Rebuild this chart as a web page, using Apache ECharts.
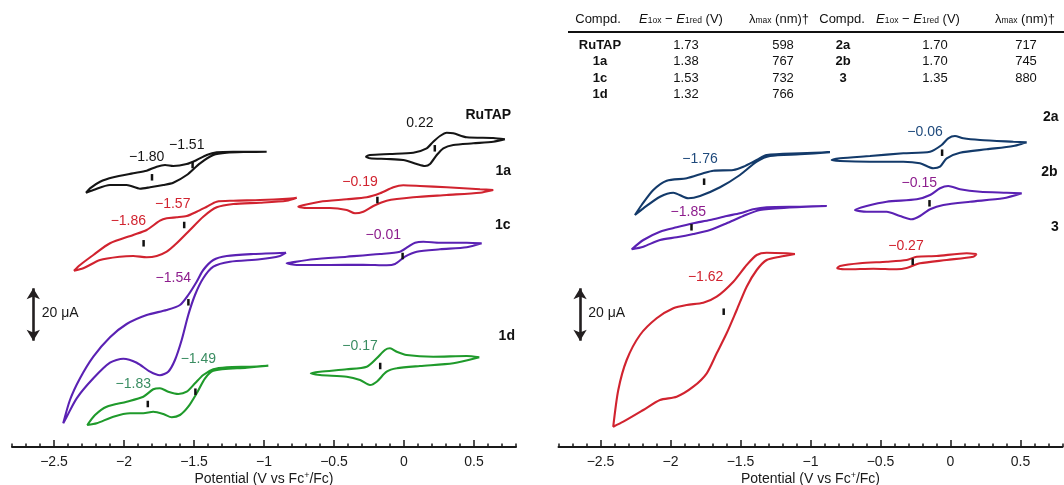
<!DOCTYPE html>
<html>
<head>
<meta charset="utf-8">
<script src="https://cdn.jsdelivr.net/npm/echarts@6/dist/echarts.min.js"></script>
<style>
  html, body { margin: 0; padding: 0; background: #fff; }
  #chart { width: 1064px; height: 485px; }
</style>
</head>
<body>
<div id="chart"></div>
<script>
// potential in V vs Fc+/Fc, current as stacked offset (1 unit ~ 0.38 uA, 20 uA bar = 52.5)
const ruTapRed = [[-0.981,295.3],[-1.221,295.3],[-1.338,294.7],[-1.409,292],[-1.481,287],[-1.552,283],[-1.648,281],[-1.707,282],[-1.766,280.3],[-1.838,276.3],[-1.934,273.7],[-2.076,269.7],[-2.171,265.3],[-2.243,258.7],[-2.271,254.3],
  [-2.219,257],[-2.1,262],[-1.981,262],[-1.886,258.3],[-1.814,259.7],[-1.719,262],[-1.648,264.3],[-1.552,272],[-1.457,283.7],[-1.362,292],[-1.266,294.3],[-1.124,295],[-0.981,295.3]];
const ruTapOx = [[0.721,307.7],[0.638,309],[0.448,309.7],[0.352,313.7],[0.305,314.3],[0.257,311],[0.209,305.3],[0.162,298.7],[0.066,294.3],[-0.1,293],[-0.243,292],[-0.271,290.3],
  [-0.243,288.7],[-0.124,288],[-0.005,287],[0.091,283],[0.15,281],[0.186,283],[0.234,292],[0.281,298.7],[0.352,302],[0.495,303.7],[0.638,305.3],[0.721,307.7]];
const c1aRed = [[-0.766,249.3],[-0.838,248.3],[-1.029,247],[-1.219,246.3],[-1.338,245.3],[-1.409,240.3],[-1.481,235.3],[-1.552,231],[-1.624,229.7],[-1.695,228.7],[-1.743,226.3],[-1.838,217],[-1.934,212],[-2.1,203.7],[-2.219,192],[-2.314,182],[-2.357,176.3],
  [-2.291,178.7],[-2.171,187],[-2.029,190.3],[-1.934,191],[-1.838,189.7],[-1.766,191],[-1.695,195.3],[-1.624,203.7],[-1.529,217],[-1.434,230.3],[-1.338,239.7],[-1.219,243],[-1.029,244.3],[-0.838,246.3],[-0.766,249.3]];
const c1aOx = [[0.638,257],[0.543,257.7],[0.305,259.7],[0.114,261],[-0.005,261.7],[-0.076,259.7],[-0.171,253.7],[-0.266,249.7],[-0.409,247.7],[-0.6,245.3],[-0.743,241],[-0.755,240.3],
  [-0.695,239],[-0.529,239],[-0.409,237],[-0.35,233.7],[-0.291,235.3],[-0.219,241],[-0.124,246.3],[0.066,249.7],[0.305,252],[0.543,254.3],[0.638,257]];
const c1cRed = [[-0.843,194.3],[-1.076,193],[-1.266,191],[-1.362,187],[-1.434,177],[-1.481,165.3],[-1.541,152],[-1.6,142],[-1.695,137],[-1.838,132],[-1.981,123],[-2.1,109.7],[-2.219,90.3],[-2.314,68.7],[-2.386,47],[-2.434,23.7],
  [-2.409,30.3],[-2.338,48.7],[-2.219,68.7],[-2.1,84.3],[-2.005,88.3],[-1.909,84.3],[-1.814,75.3],[-1.743,71.7],[-1.684,75.3],[-1.636,87],[-1.588,107],[-1.541,132],[-1.493,152],[-1.434,168.7],[-1.362,180.3],[-1.243,185.3],[-1.029,187.7],[-0.886,191],[-0.843,194.3]];
const c1cOx = [[0.555,203.7],[0.448,204.3],[0.257,204.3],[0.138,205.3],[0.079,204.3],[0.031,200.3],[-0.029,195.3],[-0.171,193],[-0.409,190.3],[-0.648,187.7],[-0.814,184.3],[-0.838,183.7],
  [-0.766,182],[-0.529,182],[-0.291,182.3],[-0.124,181.7],[-0.064,183],[0.007,190.3],[0.091,195.3],[0.257,197.7],[0.448,199.7],[0.555,203.7]];
const c1dRed = [[-0.969,81.3],[-1.1,80.3],[-1.266,79.7],[-1.362,77.7],[-1.434,72],[-1.493,63.7],[-1.552,55.3],[-1.612,53],[-1.684,55.3],[-1.743,58.7],[-1.791,57.7],[-1.862,50.3],[-1.981,45.3],[-2.124,40.3],[-2.207,32],[-2.262,22],
  [-2.195,23.7],[-2.076,30.3],[-1.957,33.7],[-1.862,33.7],[-1.791,35.3],[-1.719,33],[-1.659,29.7],[-1.6,32],[-1.541,40.3],[-1.481,53.7],[-1.421,68.7],[-1.362,76.3],[-1.124,79.3],[-0.969,81.3]];
const c1dOx = [[0.538,89.7],[0.448,91],[0.209,90.3],[0.019,92],[-0.052,95.3],[-0.1,98.7],[-0.136,97],[-0.195,88.7],[-0.266,80.3],[-0.409,77.7],[-0.6,75.3],[-0.666,73.7],
  [-0.6,72],[-0.409,70.3],[-0.314,67],[-0.243,62],[-0.195,65.3],[-0.124,75.3],[-0.052,78.7],[0.114,81],[0.352,83.7],[0.538,89.7]];

const c2aRed = [[-0.861,294.7],[-1.075,293.7],[-1.313,292],[-1.384,287],[-1.48,280.3],[-1.551,277],[-1.694,276.3],[-1.766,273.7],[-1.884,268.7],[-2.027,266.3],[-2.123,257],[-2.206,242],[-2.254,232],
  [-2.194,238.7],[-2.075,250.3],[-1.98,254.3],[-1.873,248.7],[-1.789,251],[-1.646,259.7],[-1.504,272],[-1.384,285.3],[-1.289,291],[-1.075,292.7],[-0.861,294.7]];
const c2aOx = [[0.544,304.7],[0.449,305.3],[0.211,307],[0.091,308.7],[0.032,311],[-0.016,308.7],[-0.063,302],[-0.146,295.3],[-0.337,293.7],[-0.575,291],[-0.789,288.7],[-0.849,287],
  [-0.789,286],[-0.575,285.3],[-0.337,285.3],[-0.218,283.7],[-0.123,278.7],[-0.075,280.3],[-0.027,288.7],[0.068,294.3],[0.259,297.7],[0.449,301],[0.544,304.7]];
const c2bRed = [[-0.884,241],[-1.075,240.3],[-1.313,239.7],[-1.409,237.7],[-1.504,233.7],[-1.599,231],[-1.718,227],[-1.837,223.7],[-1.956,219.7],[-2.075,215.3],[-2.194,207],[-2.277,197.7],
  [-2.194,200.3],[-2.075,207],[-1.956,209.7],[-1.837,213],[-1.718,217],[-1.599,223.7],[-1.48,231],[-1.361,237],[-1.17,239.3],[-0.884,241]];
const c2bOx = [[0.509,253.7],[0.401,254.3],[0.211,255.3],[0.068,257.7],[-0.016,261],[-0.075,258.7],[-0.146,252],[-0.241,247.7],[-0.456,245.3],[-0.599,241],[-0.682,237],
  [-0.599,235.3],[-0.456,235.3],[-0.361,231],[-0.277,227.7],[-0.218,231],[-0.146,237.7],[-0.051,242],[0.139,245.3],[0.377,248.7],[0.509,253.7]];
const c3Red = [[-1.111,193],[-1.17,193.7],[-1.313,194.3],[-1.384,192],[-1.456,182],[-1.551,165.3],[-1.67,150.3],[-1.766,144.3],[-1.884,142],[-1.98,138.7],[-2.099,128.7],[-2.218,112],[-2.313,87],[-2.373,57],[-2.409,20.3],
  [-2.337,25.3],[-2.194,37],[-2.075,47],[-1.956,50.3],[-1.837,60.3],[-1.741,73.7],[-1.67,93.7],[-1.599,113.7],[-1.527,137],[-1.456,160.3],[-1.384,177],[-1.313,187],[-1.218,190.3],[-1.111,193]];
const c3Ox = [[0.187,193],[0.116,193.7],[-0.099,191],[-0.241,190.3],[-0.313,187],[-0.456,185.3],[-0.646,183.7],[-0.789,181],[-0.809,178.7],
  [-0.741,177.7],[-0.551,178.3],[-0.384,177.7],[-0.313,179],[-0.218,183.7],[-0.027,187],[0.163,190.3],[0.187,193]];

// half-wave potentials: [E1/2 (V), marker height, label x, label y, colour key]
const leftHalfWave = [
  [-1.80, 269.7, -1.838, 289.7, 'black'], [-1.51, 282, -1.552, 302, 'black'], [0.22, 298.7, 0.114, 323.7, 'black'],
  [-1.86, 203.7, -1.969, 226.3, 'red'], [-1.57, 222, -1.652, 243, 'red'], [-0.19, 247, -0.314, 265.3, 'red'],
  [-1.54, 144.7, -1.648, 168.7, 'plum'], [-0.01, 191, -0.148, 212, 'plum'],
  [-1.83, 43, -1.934, 62.7, 'teal'], [-1.49, 55.3, -1.469, 87.7, 'teal'], [-0.17, 81, -0.314, 101, 'teal']
];
const rightHalfWave = [
  [-1.76, 265.3, -1.789, 287.7, 'navyText'], [-0.06, 294.3, -0.182, 315.3, 'navyText'],
  [-1.85, 219.7, -1.873, 235.3, 'plum'], [-0.15, 243.7, -0.223, 264.3, 'plum'],
  [-1.62, 135.3, -1.749, 170.3, 'red'], [-0.27, 185.3, -0.318, 201, 'red']
];

const leftNames = ['RuTAP', '1a', '1c', '1d'];
const leftNamePos = [[0.602, 332], [0.709, 276.3], [0.705, 222], [0.734, 111]];
const rightNames = ['2a', '2b', '3'];
const rightNamePos = [[0.716, 329.7], [0.706, 275.3], [0.746, 219.7]];

const majorTicks = [-2.5, -2, -1.5, -1, -0.5, 0, 0.5];
const scaleBarX = [-2.648, -2.646];
const scaleBarY = [106.3, 158.7];

const tableCompdL = ['RuTAP', '1a', '1c', '1d'];
const tableGapL = ['1.73', '1.38', '1.53', '1.32'];
const tableLambdaL = ['598', '767', '732', '766'];
const tableCompdR = ['2a', '2b', '3'];
const tableGapR = ['1.70', '1.70', '1.35'];
const tableLambdaR = ['717', '745', '880'];

const FONT = '"Liberation Sans", Arial, Helvetica, sans-serif';
const COL = {
  black: '#151515', red: '#d1232f', violet: '#5a21b3', plum: '#8d1d8d',
  green: '#1f9a2b', teal: '#3a8d62', navy: '#133a6a', navyText: '#1f4a7c'
};

const fmtAxis = v => (v < 0 ? '\u2212' + Math.abs(v) : String(v));
const fmtE = v => (v < 0 ? '\u2212' : '') + Math.abs(v).toFixed(2);

function loop(data, color, panel) {
  return {
    type: 'line', data, xAxisIndex: panel * 2, yAxisIndex: panel,
    smooth: 0.25, symbol: 'none', silent: true, z: 3,
    lineStyle: { color, width: 2.1 }
  };
}

function xAxisPair(grid) {
  return [{
    type: 'value', gridIndex: grid, position: 'bottom', min: -2.8, max: 0.8, interval: 0.1,
    axisLine: { onZero: false, lineStyle: { color: '#1a1a1a', width: 2 } },
    axisTick: { inside: true, length: 3.5, lineStyle: { color: '#1a1a1a', width: 1.5 } },
    splitLine: { show: false },
    axisLabel: { customValues: majorTicks, formatter: fmtAxis, color: '#1a1a1a', fontSize: 14, fontFamily: FONT, margin: 8 },
    name: 'Potential (V vs Fc{sup|+}/Fc)', nameLocation: 'middle', nameGap: 24.5, nameMoveOverlap: false,
    nameTextStyle: { color: '#1a1a1a', fontSize: 14, fontFamily: FONT,
      rich: { sup: { fontSize: 9, fontFamily: FONT, color: '#1a1a1a', verticalAlign: 'top', padding: [0, 0, 6, 0] } } }
  }, {
    type: 'value', gridIndex: grid, position: 'bottom', min: -2.8, max: 0.8,
    axisLine: { show: false, onZero: false },
    axisTick: { inside: true, length: 7, customValues: majorTicks, lineStyle: { color: '#1a1a1a', width: 1.5 } },
    axisLabel: { show: false }, splitLine: { show: false }
  }];
}

function markers(list, panel) {
  return {
    type: 'scatter', xAxisIndex: panel * 2, yAxisIndex: panel, silent: true, z: 4,
    symbol: 'rect', symbolSize: [2.5, 6.5], itemStyle: { color: '#111', opacity: 1 },
    data: list.map(d => [d[0], d[1]])
  };
}

function texts(items, panel) {
  return {
    type: 'scatter', xAxisIndex: panel * 2, yAxisIndex: panel, silent: true, z: 5,
    symbolSize: 1, itemStyle: { color: 'rgba(0,0,0,0)', opacity: 1 },
    data: items,
    label: { show: true, position: 'inside', fontFamily: FONT, fontSize: 14, opacity: 1 },
    markLine: {
      silent: true, symbol: ['arrow', 'arrow'], symbolSize: [10, 11], animation: false,
      lineStyle: { color: '#231f20', width: 2.6, type: 'solid', opacity: 1 }, label: { show: false },
      data: [[{ coord: [scaleBarX[panel], scaleBarY[0]] }, { coord: [scaleBarX[panel], scaleBarY[1]] }]]
    }
  };
}

function eLabels(list) {
  return list.map(d => ({ value: [d[2], d[3]], label: { formatter: fmtE(d[0]), color: COL[d[4]] } }));
}
function nameLabels(names, pos) {
  return names.map((n, i) => ({ value: pos[i], label: { formatter: n, color: '#111', fontWeight: 'bold' } }));
}

const chart = echarts.init(document.getElementById('chart'), null, { renderer: 'canvas' });

// table drawn as text
const tableFont = 13;
const colX = [600, 686, 783, 843, 935, 1026];
const headX = [598, 681, 779, 842, 918, 1025];
const rowY = [45, 61.5, 78, 94.5];
const headY = 19;
const rich = {
  i: { fontStyle: 'italic', fontSize: 13, fontFamily: FONT, color: '#111' },
  s: { fontSize: 8.5, fontFamily: FONT, color: '#111', padding: [4, 0, 0, 0] },
  n: { fontSize: 13, fontFamily: FONT, color: '#111' }
};
const headTexts = ['{n|Compd.}', '{i|E}{s|1ox}{n| \u2212 }{i|E}{s|1red}{n| (V)}', '{n|\u03bb}{s|max}{n| (nm)\u2020}'];
const graphics = [];
headTexts.concat(headTexts).forEach((t, k) => {
  graphics.push({ type: 'text', x: headX[k], y: headY, silent: true,
    style: { text: t, rich, align: 'center', verticalAlign: 'middle', font: tableFont + 'px ' + FONT, fill: '#111' } });
});
graphics.push({ type: 'line', silent: true, shape: { x1: 568, y1: 32, x2: 1064, y2: 32 }, style: { stroke: '#111', lineWidth: 2 } });
function tableCol(vals, x, bold) {
  vals.forEach((v, r) => graphics.push({ type: 'text', x, y: rowY[r], silent: true,
    style: { text: v, align: 'center', verticalAlign: 'middle', fill: '#111',
      font: (bold ? 'bold ' : '') + tableFont + 'px ' + FONT } }));
}
tableCol(tableCompdL, colX[0], true);
tableCol(tableGapL, colX[1]);
tableCol(tableLambdaL, colX[2]);
tableCol(tableCompdR, colX[3], true);
tableCol(tableGapR, colX[4]);
tableCol(tableLambdaR, colX[5]);

const option = {
  animation: false,
  backgroundColor: '#fff',
  grid: [
    { left: 12, width: 504, top: 0, height: 447, outerBoundsMode: 'none', containLabel: false },
    { left: 558.5, width: 504, top: 0, height: 447, outerBoundsMode: 'none', containLabel: false }
  ],
  xAxis: xAxisPair(0).concat(xAxisPair(1)),
  yAxis: [
    { type: 'value', gridIndex: 0, min: 0, max: 447, show: false },
    { type: 'value', gridIndex: 1, min: 0, max: 447, show: false }
  ],
  graphic: graphics,
  series: [
    loop(ruTapRed, COL.black, 0), loop(ruTapOx, COL.black, 0),
    loop(c1aRed, COL.red, 0), loop(c1aOx, COL.red, 0),
    loop(c1cRed, COL.violet, 0), loop(c1cOx, COL.violet, 0),
    loop(c1dRed, COL.green, 0), loop(c1dOx, COL.green, 0),
    loop(c2aRed, COL.navy, 1), loop(c2aOx, COL.navy, 1),
    loop(c2bRed, COL.violet, 1), loop(c2bOx, COL.violet, 1),
    loop(c3Red, COL.red, 1), loop(c3Ox, COL.red, 1),
    markers(leftHalfWave, 0), markers(rightHalfWave, 1),
    texts(eLabels(leftHalfWave).concat(nameLabels(leftNames, leftNamePos))
      .concat([{ value: [-2.588, 133.7], label: { formatter: '20 \u03bcA', color: '#1a1a1a', align: 'left' } }]), 0),
    texts(eLabels(rightHalfWave).concat(nameLabels(rightNames, rightNamePos))
      .concat([{ value: [-2.587, 134.3], label: { formatter: '20 \u03bcA', color: '#1a1a1a', align: 'left' } }]), 1)
  ]
};
chart.setOption(option);
</script>
</body>
</html>
